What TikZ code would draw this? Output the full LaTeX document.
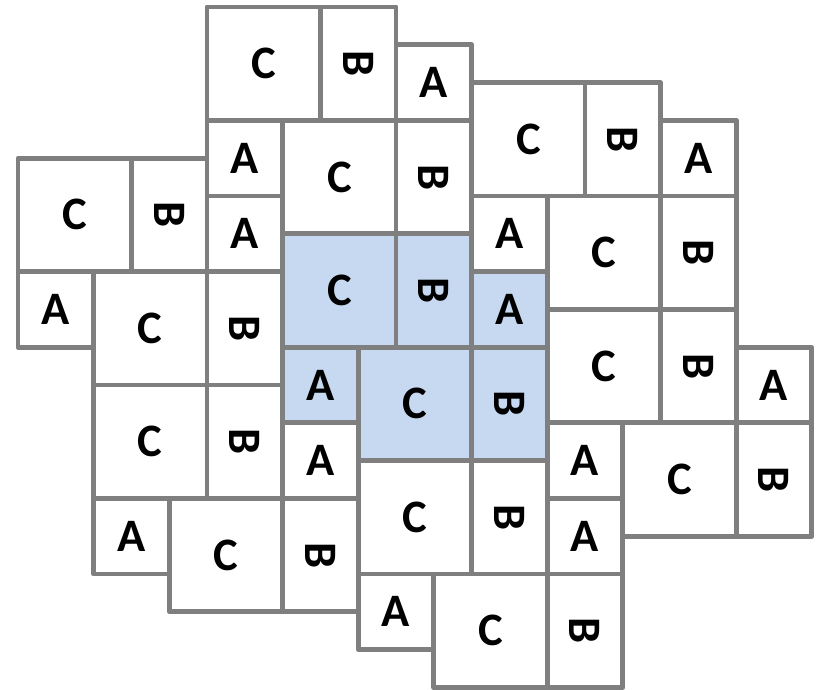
\documentclass[tikz,border=0pt]{standalone}
\usepackage{fontspec}
\setmainfont{Carlito}
\definecolor{tilegray}{HTML}{7F7F7F}
\definecolor{tileblue}{HTML}{C6D9F0}
\tikzset{
  tile/.style={draw=tilegray, line width=3.7pt, line join=round, fill=white, inner sep=0pt, outer sep=0pt,
    anchor=north west, font=\bfseries\fontsize{35}{35}\selectfont},
  ctile/.style={tile, minimum width=3cm, minimum height=3cm},
  btile/.style={tile, minimum width=2cm, minimum height=3cm},
  atile/.style={tile, minimum width=2cm, minimum height=2cm},
  hl/.style={fill=tileblue}
}
\newcommand{\rotB}{\rotatebox{-90}{B}}
\begin{document}
\begin{tikzpicture}[x=1cm,y=1cm]
\useasboundingbox (-0.476,-18.053) rectangle (21.19,0.185);
\node[ctile] (c1) at (5,0) {C};
\node[btile] (b1) at (8,0) {\rotB};
\node[atile] (a1) at (10,-1) {A};
\node[ctile] (c2) at (12,-2) {C};
\node[btile] (b2) at (15,-2) {\rotB};
\node[atile] (a2) at (17,-3) {A};
\node[atile] (a3) at (5,-3) {A};
\node[ctile] (c3) at (7,-3) {C};
\node[btile] (b3) at (10,-3) {\rotB};
\node[ctile] (c4) at (0,-4) {C};
\node[btile] (b4) at (3,-4) {\rotB};
\node[atile] (a4) at (5,-5) {A};
\node[atile] (a5) at (12,-5) {A};
\node[ctile] (c5) at (14,-5) {C};
\node[btile] (b5) at (17,-5) {\rotB};
\node[ctile,hl] (c6) at (7,-6) {C};
\node[btile,hl] (b6) at (10,-6) {\rotB};
\node[atile,hl] (a6) at (12,-7) {A};
\node[atile] (a7) at (0,-7) {A};
\node[ctile] (c7) at (2,-7) {C};
\node[btile] (b7) at (5,-7) {\rotB};
\node[ctile] (c8) at (14,-8) {C};
\node[btile] (b8) at (17,-8) {\rotB};
\node[atile] (a8) at (19,-9) {A};
\node[atile,hl] (a9) at (7,-9) {A};
\node[ctile,hl] (c9) at (9,-9) {C};
\node[btile,hl] (b9) at (12,-9) {\rotB};
\node[ctile] (c10) at (2,-10) {C};
\node[btile] (b10) at (5,-10) {\rotB};
\node[atile] (a10) at (7,-11) {A};
\node[atile] (a11) at (14,-11) {A};
\node[ctile] (c11) at (16,-11) {C};
\node[btile] (b11) at (19,-11) {\rotB};
\node[ctile] (c12) at (9,-12) {C};
\node[btile] (b12) at (12,-12) {\rotB};
\node[atile] (a12) at (14,-13) {A};
\node[atile] (a13) at (2,-13) {A};
\node[ctile] (c13) at (4,-13) {C};
\node[btile] (b13) at (7,-13) {\rotB};
\node[atile] (a14) at (9,-15) {A};
\node[ctile] (c14) at (11,-15) {C};
\node[btile] (b14) at (14,-15) {\rotB};
\end{tikzpicture}
\end{document}
